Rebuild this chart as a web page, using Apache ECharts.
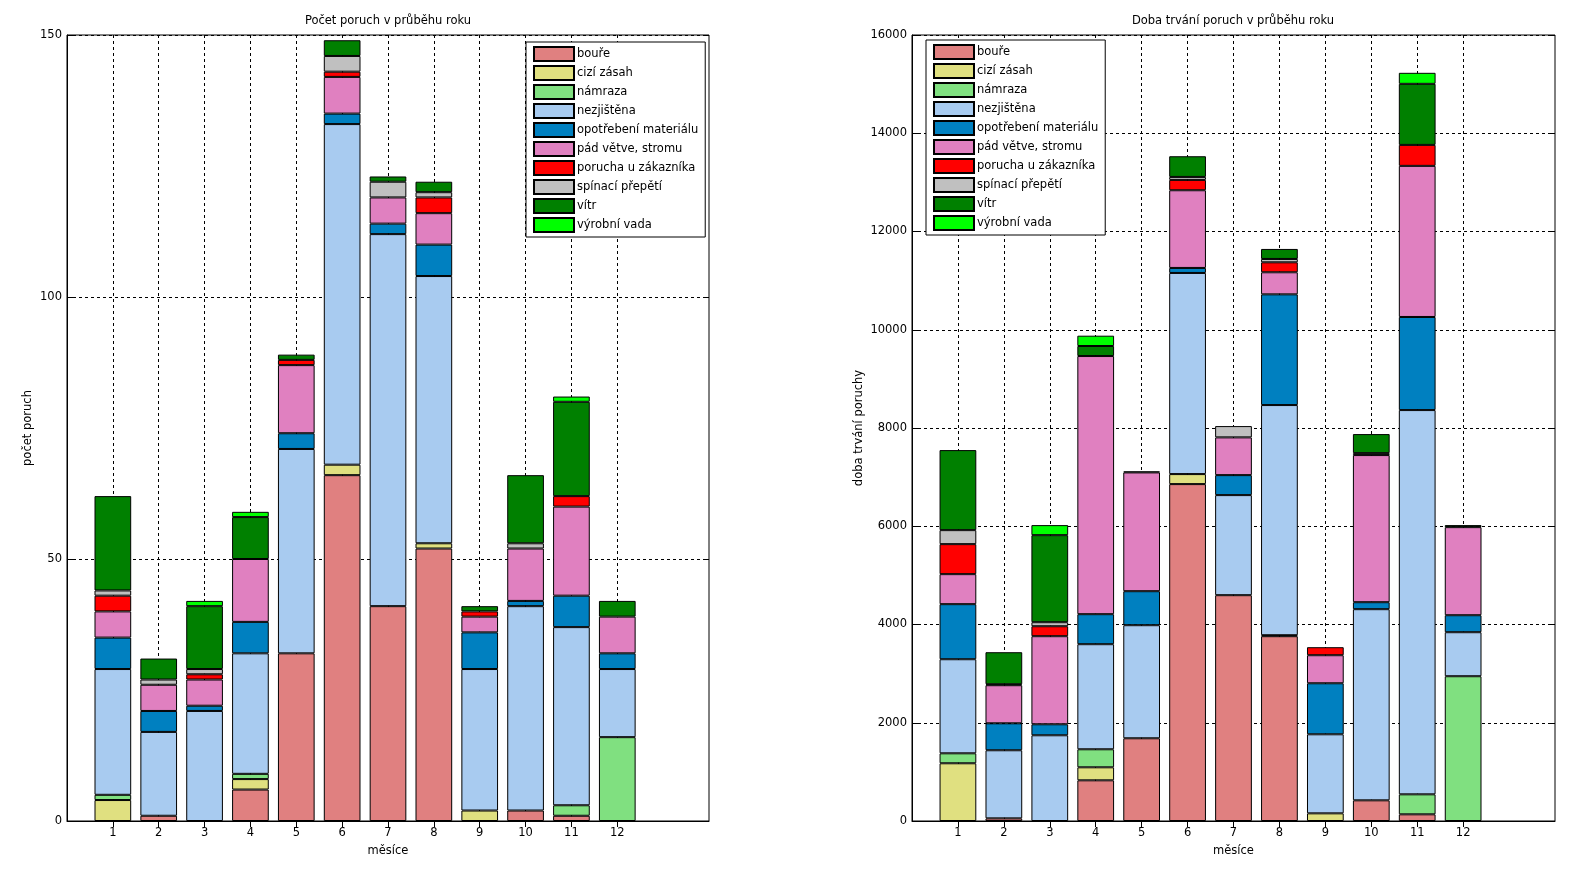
<!DOCTYPE html>
<html>
<head>
<meta charset="utf-8">
<script src="https://cdn.jsdelivr.net/npm/echarts@6/dist/echarts.min.js"></script>
<style>
html,body{margin:0;padding:0;background:#fff;}
#c{width:1587px;height:879px;}
</style>
</head>
<body>
<div id="c"></div>
<script>
// ---- data ----
const months = ['1','2','3','4','5','6','7','8','9','10','11','12'];
const causes = ['bouře','cizí zásah','námraza','nezjištěna','opotřebení materiálu','pád větve, stromu','porucha u zákazníka','spínací přepětí','vítr','výrobní vada'];
const colors = ['#E08080','#E0E080','#80E080','#A8CBF0','#0080C0','#E080C0','#FF0000','#C0C0C0','#008000','#00FF00'];

// count of failures per month (left chart)
const cnt_boure      = [0,1,0,6,32,66,41,52,0,2,1,0];
const cnt_cizi       = [4,0,0,2,0,2,0,1,2,0,0,0];
const cnt_namraza    = [1,0,0,1,0,0,0,0,0,0,2,16];
const cnt_nezjistena = [24,16,21,23,39,65,71,51,27,39,34,13];
const cnt_opotrebeni = [6,4,1,6,3,2,2,6,7,1,6,3];
const cnt_pad        = [5,5,5,12,13,7,5,6,3,10,17,7];
const cnt_porucha    = [3,0,1,0,1,1,0,3,1,0,2,0];
const cnt_spinaci    = [1,1,1,0,0,3,3,1,0,1,0,0];
const cnt_vitr       = [18,4,12,8,1,3,1,2,1,13,18,3];
const cnt_vyrobni    = [0,0,1,1,0,0,0,0,0,0,1,0];

// duration of failures per month (right chart)
const dur_boure      = [0,54,0,828,1684,6858,4597,3762,0,421,136,0];
const dur_cizi       = [1175,0,0,265,0,204,0,20,156,0,0,0];
const dur_namraza    = [203,0,0,367,0,0,0,0,0,0,407,2947];
const dur_nezjistena = [1915,1386,1745,2139,2302,4094,2037,4685,1609,3891,7822,896];
const dur_opotrebeni = [1121,549,224,611,692,102,407,2254,1039,142,1895,346];
const dur_pad        = [611,775,1793,5255,2418,1582,768,449,571,2995,3076,1793];
const dur_porucha    = [611,0,203,0,0,210,0,203,163,0,427,0];
const dur_spinaci    = [285,20,82,0,0,61,230,68,0,40,0,0];
const dur_vitr       = [1629,652,1772,204,20,421,0,204,0,387,1243,41];
const dur_vyrobni    = [0,0,204,210,0,0,0,0,0,0,224,0];

const cntTicks = [0,50,100,150];
const durTicks = [0,2000,4000,6000,8000,10000,12000,14000,16000];

const cntSeries = [cnt_boure,cnt_cizi,cnt_namraza,cnt_nezjistena,cnt_opotrebeni,cnt_pad,cnt_porucha,cnt_spinaci,cnt_vitr,cnt_vyrobni];
const durSeries = [dur_boure,dur_cizi,dur_namraza,dur_nezjistena,dur_opotrebeni,dur_pad,dur_porucha,dur_spinaci,dur_vitr,dur_vyrobni];

// ---- chart ----
const FONT = 'DejaVu Sans';
const FS = 11.5;
// category axis 0..14 with months at 1..12
const xCats = [' '].concat(months, ['  ', '   ']);
const inMonths = (i) => i >= 1 && i <= 12;
const pad = (arr) => [null].concat(arr.map(v => v === 0 ? null : v), [null, null]);

function xAxes(gi) {
  return [
    {
      type: 'category', gridIndex: gi, data: xCats, boundaryGap: false, position: 'bottom',
      name: 'měsíce', nameLocation: 'middle', nameGap: 24,
      nameTextStyle: {fontFamily: FONT, fontSize: FS, color: '#000'},
      axisLine: {show: true, lineStyle: {color: '#000', width: 1}},
      axisTick: {show: true, inside: true, length: 6, interval: (i) => inMonths(i), lineStyle: {color: '#000'}},
      axisLabel: {interval: (i) => inMonths(i), margin: 6, fontFamily: FONT, fontSize: FS, color: '#000'},
      splitLine: {show: true, interval: (i) => inMonths(i), lineStyle: {color: '#000', type: [3, 3], width: 1}}
    },
    {
      type: 'category', gridIndex: gi, data: xCats, boundaryGap: false, position: 'top',
      axisLine: {show: false},
      axisTick: {show: true, inside: true, length: 6, interval: (i) => inMonths(i), lineStyle: {color: '#000'}},
      axisLabel: {show: false}, splitLine: {show: false}
    }
  ];
}
function yAxes(gi, ticks, name, gap) {
  const mn = ticks[0], mx = ticks[ticks.length - 1], iv = ticks[1] - ticks[0];
  return [
    {
      type: 'value', gridIndex: gi, min: mn, max: mx, interval: iv, position: 'left',
      name: name, nameLocation: 'middle', nameGap: gap,
      nameTextStyle: {fontFamily: FONT, fontSize: FS, color: '#000'},
      axisLine: {show: true, lineStyle: {color: '#000'}},
      axisTick: {show: true, inside: true, length: 6, lineStyle: {color: '#000'}},
      axisLabel: {margin: 5, fontFamily: FONT, fontSize: FS, color: '#000', formatter: (v) => String(v)},
      splitLine: {show: true, lineStyle: {color: '#000', type: [3, 3], width: 1}}
    },
    {
      type: 'value', gridIndex: gi, min: mn, max: mx, interval: iv, position: 'right',
      axisLine: {show: false},
      axisTick: {show: true, inside: true, length: 6, lineStyle: {color: '#000'}},
      axisLabel: {show: false}, splitLine: {show: false}
    }
  ];
}
function makeSeries(data, gi) {
  return data.map((arr, k) => ({
    type: 'bar', name: causes[k], stack: 'g' + gi,
    xAxisIndex: gi * 2, yAxisIndex: gi * 2,
    data: pad(arr), barWidth: '80%',
    itemStyle: {color: colors[k], borderColor: '#000', borderWidth: 1},
    emphasis: {disabled: true}
  }));
}
function legend(left, top) {
  return {
    data: causes, orient: 'vertical', left: left, top: top,
    itemWidth: 40, itemHeight: 14, itemGap: 3, icon: 'rect',
    padding: [4, 7, 4, 7], borderColor: '#000', borderWidth: 1, backgroundColor: '#fff',
    textStyle: {fontFamily: FONT, fontSize: FS, color: '#000', lineHeight: 14, padding: [0, 0, 0, -2]},
    selectedMode: false
  };
}

const chart = echarts.init(document.getElementById('c'), null, {renderer: 'canvas'});
chart.setOption({
  animation: false,
  backgroundColor: '#fff',
  color: colors,
  title: [
    {text: 'Počet poruch v průběhu roku', left: 388, top: 15, textAlign: 'center', padding: 0,
     textStyle: {fontFamily: FONT, fontSize: FS, fontWeight: 'normal', color: '#000'}},
    {text: 'Doba trvání poruch v průběhu roku', left: 1233, top: 15, textAlign: 'center', padding: 0,
     textStyle: {fontFamily: FONT, fontSize: FS, fontWeight: 'normal', color: '#000'}}
  ],
  legend: [legend(526, 42), legend(926, 40)],
  grid: [
    {left: 67, top: 35, width: 642, height: 786, show: true, borderColor: '#000', borderWidth: 1, backgroundColor: 'transparent'},
    {left: 912, top: 35, width: 643, height: 786, show: true, borderColor: '#000', borderWidth: 1, backgroundColor: 'transparent'}
  ],
  xAxis: xAxes(0).concat(xAxes(1)),
  yAxis: yAxes(0, cntTicks, 'počet poruch', 33).concat(yAxes(1, durTicks, 'doba trvání poruchy', 47)),
  series: makeSeries(cntSeries, 0).concat(makeSeries(durSeries, 1))
});
</script>
</body>
</html>
